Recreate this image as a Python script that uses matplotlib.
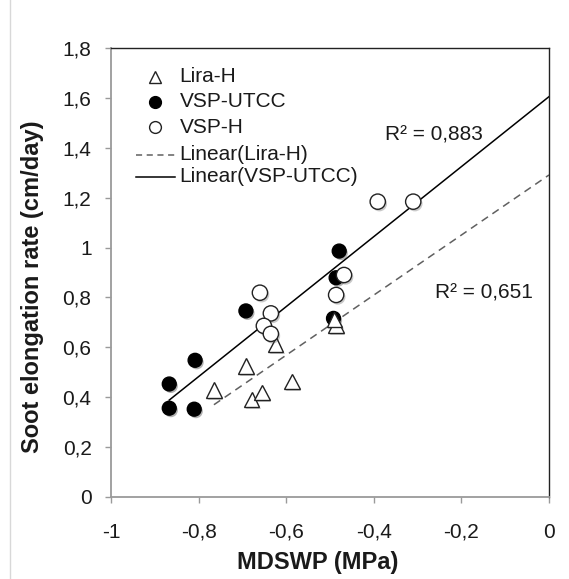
import matplotlib
matplotlib.use("Agg")
import matplotlib.pyplot as plt
import matplotlib.patheffects as pe
from matplotlib.lines import Line2D
import numpy as np

plt.rcParams['font.family'] = ['Liberation Sans', 'DejaVu Sans']

# ---- data ----
lira_x = [-0.765, -0.692, -0.679, -0.655, -0.587, -0.624, -0.486, -0.490]
lira_y = [0.429, 0.525, 0.392, 0.420, 0.462, 0.612, 0.690, 0.712]

utcc_x = [-0.867, -0.810, -0.867, -0.808, -0.692, -0.479, -0.486, -0.492]
utcc_y = [0.356, 0.352, 0.453, 0.548, 0.746, 0.986, 0.879, 0.716]

vsph_x = [-0.660, -0.635, -0.651, -0.635, -0.486, -0.468, -0.391, -0.310]
vsph_y = [0.819, 0.736, 0.686, 0.654, 0.810, 0.890, 1.184, 1.184]

# trend lines (slope, intercept)
lira_fit = [1.204, 1.291]
utcc_fit = [1.403, 1.605]
r2_lira = "R² = 0,651"
r2_utcc = "R² = 0,883"

x_ticks = [-1, -0.8, -0.6, -0.4, -0.2, 0]
x_tick_labels = ["-1", "-0,8", "-0,6", "-0,4", "-0,2", "0"]
y_ticks = [0, 0.2, 0.4, 0.6, 0.8, 1.0, 1.2, 1.4, 1.6, 1.8]
y_tick_labels = ["0", "0,2", "0,4", "0,6", "0,8", "1", "1,2", "1,4", "1,6", "1,8"]

legend_labels = ["Lira-H", "VSP-UTCC", "VSP-H", "Linear(Lira-H)", "Linear(VSP-UTCC)"]

W, H = 569, 579
fig = plt.figure(figsize=(W / 100, H / 100), dpi=100)
ax = fig.add_axes([111 / W, 1 - 497 / H, (549 - 111) / W, (497 - 48) / H])

mshadow = [pe.SimplePatchShadow(offset=(1.2, -1.5), alpha=0.3), pe.Normal()]

# trend lines
xl = np.array([min(lira_x), 0.0])
ax.plot(xl, lira_fit[0] * xl + lira_fit[1], color='#606060', lw=1.1,
        dashes=(5, 3.5), zorder=2)
xu = np.array([min(utcc_x), 0.0])
ax.plot(xu, utcc_fit[0] * xu + utcc_fit[1], color='black', lw=1.1, zorder=2)

ms = 10
ax.plot(utcc_x, utcc_y, 'o', ms=ms, mfc='black', mec='black', mew=1,
        zorder=3, path_effects=mshadow)
ax.plot(lira_x, lira_y, '^', ms=ms + 1, mfc='white', mec='#222222', mew=1,
        zorder=4, path_effects=mshadow)
ax.plot(vsph_x, vsph_y, 'o', ms=ms + 1, mfc='white', mec='#222222', mew=1,
        zorder=5, path_effects=mshadow)

ax.set_xlim(-1, 0)
ax.set_ylim(0, 1.8)
ax.set_xticks(x_ticks)
ax.set_xticklabels(x_tick_labels)
ax.set_yticks(y_ticks)
ax.set_yticklabels(y_tick_labels)

for s in ['left', 'bottom']:
    ax.spines[s].set_color('#9a9a9a')
    ax.spines[s].set_linewidth(1.3)
for s in ['top', 'right']:
    ax.spines[s].set_color('#222222')
    ax.spines[s].set_linewidth(1.0)

ax.tick_params(axis='y', length=4.5, width=1, color='#9a9a9a', pad=9.5,
               labelsize=15, labelcolor='#1a1a1a', direction='out')
ax.tick_params(axis='x', length=4.5, width=1, color='#9a9a9a', pad=14,
               labelsize=15, labelcolor='#1a1a1a', direction='out')

ax.set_xlabel("MDSWP (MPa)", fontsize=17, fontweight='bold', color='#1a1a1a')
ax.xaxis.set_label_coords((317.5 - 111) / 438, (497 - 551) / 449)
ax.set_ylabel("Soot elongation rate (cm/day)", fontsize=17, fontweight='bold',
              color='#1a1a1a')
ax.yaxis.set_label_coords((44 - 111) / 438, (497 - 286.5) / 449)

# R² annotations
ax.text(-1 + (385 - 111) / 438, (497 - 135) / 249.4, r2_utcc, fontsize=15,
        ha='left', va='center', color='#1a1a1a')
ax.text(-1 + (435 - 111) / 438, (497 - 293) / 249.4, r2_lira, fontsize=15,
        ha='left', va='center', color='#1a1a1a')

# legend (manual, figure pixel coords)
def fx(px):
    return px / W

def fy(py):
    return 1 - py / H

rows = [76.7, 101.7, 127.3, 155, 176.7]
text_x = 179.5
fig.add_artist(Line2D([fx(155)], [fy(rows[0])], marker='^', ms=9, mfc='white',
                      mec='#222222', mew=1, ls='none'))
fig.add_artist(Line2D([fx(155)], [fy(rows[1])], marker='o', ms=8.5, mfc='black',
                      mec='black', ls='none'))
fig.add_artist(Line2D([fx(155)], [fy(rows[2])], marker='o', ms=8.5, mfc='white',
                      mec='#222222', mew=1, ls='none'))
fig.add_artist(Line2D([fx(136), fx(175)], [fy(rows[3]), fy(rows[3])],
                      color='#606060', lw=1.1, dashes=(4, 3)))
fig.add_artist(Line2D([fx(136), fx(175)], [fy(rows[4]), fy(rows[4])],
                      color='black', lw=1.1))
for lab, r in zip(legend_labels, rows):
    fig.text(fx(text_x), fy(r), lab, fontsize=15, ha='left', va='center',
             color='#1a1a1a')

# faint outer frame line on the left
fig.add_artist(Line2D([fx(10), fx(10)], [0, 1], color='#d8d8d8', lw=1))

fig.savefig("out.png", dpi=100)
